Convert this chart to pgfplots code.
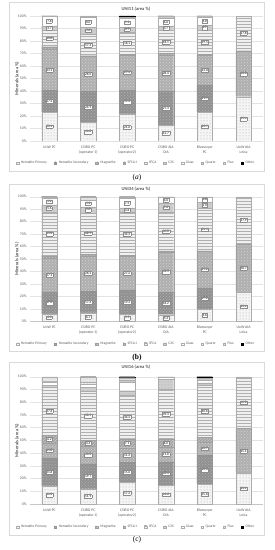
\documentclass[border=0pt]{standalone}
\usepackage{pgfplots}
\pgfplotsset{compat=1.18}
\usepackage{pgfplotstable}
\usetikzlibrary{patterns}
\usepackage{fontspec}
\setmainfont{Carlito}
\newfontfamily\serifpanel{Liberation Serif}
\definecolor{txt}{RGB}{89,89,89}

\newcommand\barlbl[1]{%
  \pgfmathfloatparsenumber{\pgfplotspointmeta}%
  \pgfmathfloattofixed{\pgfmathresult}%
  \edef\lblv{\pgfmathresult}%
  \ifdim\lblv pt<#1pt\relax\else
    {\setlength\fboxsep{0.6pt}\setlength\fboxrule{0.25pt}\fcolorbox{gray!90}{white}{\pgfmathprintnumber[fixed,fixed zerofill,precision=1]{\lblv}}}%
  \fi}

\pgfplotstableread{
x hp hs mag sfi sfca c2s gla qtz flx oth
0 23.1 17.2 33.1 2.0 13.0 3.7 7.8 0.0 0.0 0.1
1 14.8 24.9 28.0 0.5 17.3 5.6 8.0 0.4 0.5 0.0
2 21.6 19.4 27.4 0.8 18.1 3.7 7.2 0.3 0.3 1.2
3 12.7 27.3 28.4 1.8 18.1 3.7 6.6 0.6 0.5 0.3
4 22.9 21.9 23.8 0.6 19.5 3.7 6.8 0.3 0.3 0.2
5 35.4 0.0 36.8 0.0 27.8 0.0 0.0 0.0 0.0 0.0
}\dataA
\pgfplotstableread{
x hp hs mag sfi sfca c2s gla qtz flx oth
0 6.0 17.6 27.1 1.8 35.3 5.6 5.2 0.4 0.3 0.7
1 6.7 17.6 28.2 1.5 32.9 5.0 5.2 0.4 2.2 0.3
2 5.5 19.3 27.2 0.8 34.4 3.8 7.5 1.0 0.3 0.2
3 5.3 18.2 32.3 0.8 30.8 7.6 4.6 0.2 0.2 0.0
4 9.6 17.2 29.2 0.5 34.1 5.0 3.8 0.3 0.3 0.0
5 23.4 0.0 38.7 0.0 37.9 0.0 0.0 0.0 0.0 0.0
}\dataB
\pgfplotstableread{
x hp hs mag sfi sfca c2s gla qtz flx oth
0 14.3 21.8 11.8 6.2 37.6 1.3 3.0 0.5 3.5 0.0
1 11.9 19.7 14.0 4.4 38.5 3.0 3.0 1.0 4.3 0.2
2 17.2 15.6 11.4 7.1 34.2 3.5 7.0 1.0 2.2 0.8
3 14.6 18.4 11.8 6.0 39.3 8.0 1.5 0.2 0.2 0.0
4 15.6 22.6 10.7 3.7 40.6 2.0 2.3 1.0 0.0 1.5
5 24.1 0.0 35.1 0.0 40.8 0.0 0.0 0.0 0.0 0.0
}\dataC

\pgfplotsset{
  hp/.style={fill=gray!8, draw=gray!65, line width=0.3pt, postaction={pattern=dots, pattern color=gray!70}},
  hs/.style={fill=gray!86, draw=gray!85, line width=0.3pt, postaction={pattern=crosshatch dots, pattern color=gray!62}},
  mag/.style={fill=gray!63, draw=gray!75, line width=0.3pt, postaction={pattern=crosshatch dots, pattern color=gray!35}},
  sfi/.style={fill=gray!72, draw=gray!75, line width=0.3pt, postaction={pattern=north east lines, pattern color=gray!45}},
  sfca/.style={fill=gray!12, draw=gray!65, line width=0.3pt, postaction={pattern=horizontal lines, pattern color=gray!62}},
  c2s/.style={fill=gray!38, draw=gray!65, line width=0.3pt, postaction={pattern=dots, pattern color=gray!72}},
  gla/.style={fill=white, draw=gray!65, line width=0.3pt},
  qtz/.style={fill=gray!52, draw=gray!65, line width=0.3pt, postaction={pattern=crosshatch dots, pattern color=white}},
  flx/.style={fill=gray!18, draw=gray!65, line width=0.3pt, postaction={pattern=dots, pattern color=gray!55}},
  oth/.style={fill=black, draw=black, line width=0.3pt},
  lbl/.style 2 args={nodes near coords={\barlbl{#1}}, point meta=\thisrow{#2},
    every node near coord/.style={anchor=center, inner sep=0pt, font=\fontsize{3.4}{4}\selectfont, text=black}},
  panel/.style={
    ybar stacked, bar width=15.5pt, scale only axis, width=233pt,
    anchor=south west,
    xmin=-0.5, xmax=5.5, ymin=0, ymax=100,
    ytick={0,10,...,100}, xtick={0,...,5},
    xticklabels={UoW PC, {CSIRO PC\\(operator 1)}, {CSIRO PC\\(operator2)}, {CSIRO AIA\\OIA}, {Bluescope\\PC}, {UoW AIA\\Leica}},
    xticklabel style={align=center, font=\fontsize{3.8}{4.6}\selectfont, text=txt, yshift=-1.5pt},
    yticklabel={\pgfmathprintnumber{\tick}\%},
    yticklabel style={font=\fontsize{3.8}{4.4}\selectfont, text=txt},
    /pgf/number format/assume math mode=true,
    ymajorgrids, grid style={gray!22, line width=0.35pt},
    axis line style={draw=none},
    major tick length=0pt,
    legend columns=10,
    legend style={draw=none, fill=none, anchor=center, font=\fontsize{3.6}{4.2}\selectfont, text=txt,
      /tikz/every even column/.append style={column sep=5pt}, inner sep=0pt},
    legend image code/.code={\draw[##1] (0pt,-1.3pt) rectangle (2.8pt,1.3pt);},
  }
}

\newcommand\stackplots[3]{%
  \addplot[hp, lbl={#2}{hp}] table[x=x,y=hp]{#1};
  \addplot[hs, lbl={#2}{hs}] table[x=x,y=hs]{#1};
  \addplot[mag, lbl={#2}{mag}] table[x=x,y=mag]{#1};
  \addplot[sfi, lbl={#2}{sfi}] table[x=x,y=sfi]{#1};
  \addplot[sfca, lbl={#2}{sfca}] table[x=x,y=sfca]{#1};
  \addplot[c2s, lbl={#3}{c2s}] table[x=x,y=c2s]{#1};
  \addplot[gla, lbl={#3}{gla}] table[x=x,y=gla]{#1};
  \addplot[qtz] table[x=x,y=qtz]{#1};
  \addplot[flx] table[x=x,y=flx]{#1};
  \addplot[oth] table[x=x,y=oth]{#1};
  \draw[gray!45, line width=0.4pt] (axis cs:-0.5,0) -- (axis cs:5.5,0);
  \legend{Hematite Primary, Hematite Secondary, Magnetite, SFCA-I, SFCA, C2S, Glass, Quartz, Flux, Other}
}

\begin{document}
\begin{tikzpicture}[x=1pt,y=1pt]
\useasboundingbox (0,0) rectangle (274,550);
% panel boxes
\draw[gray!30, line width=0.4pt] (9,547.5) rectangle (264,379);
\draw[gray!30, line width=0.4pt] (9,366) rectangle (264,199);
\draw[gray!30, line width=0.4pt] (9,188) rectangle (264,15);

% (a)
\begin{axis}[panel, at={(30pt,409pt)}, height=125pt, legend style={at={(0.455,-0.176)}}]
\stackplots{\dataA}{3}{3}
\end{axis}
\node[font=\bfseries\fontsize{4.6}{5}\selectfont, text=txt] at (136,541) {UNI11 (area \%)};
\node[rotate=90, font=\bfseries\fontsize{4.6}{5}\selectfont, text=txt] at (17,471.5) {Minerals (area \%)};
\node[font=\serifpanel\fontsize{7.5}{8}\selectfont] at (137,372) {(\textit{a})};

% (b)
\begin{axis}[panel, at={(30pt,228.7pt)}, height=124.6pt, legend style={at={(0.455,-0.182)}}]
\stackplots{\dataB}{3}{3}
\end{axis}
\node[font=\bfseries\fontsize{4.6}{5}\selectfont, text=txt] at (136,361) {UNI34 (area \%)};
\node[rotate=90, font=\bfseries\fontsize{4.6}{5}\selectfont, text=txt] at (17,291) {Minerals (area \%)};
\node[font=\serifpanel\bfseries\fontsize{7.5}{8}\selectfont] at (137,192.3) {(b)};

% (c)
\begin{axis}[panel, at={(30pt,46pt)}, height=127.3pt, legend style={at={(0.455,-0.181)}}]
\stackplots{\dataC}{4}{100}
\end{axis}
\node[font=\bfseries\fontsize{4.6}{5}\selectfont, text=txt] at (136,182.7) {UNI16 (area \%)};
\node[rotate=90, font=\bfseries\fontsize{4.6}{5}\selectfont, text=txt] at (17,109.5) {Minerals (area \%)};
\node[font=\serifpanel\fontsize{7.5}{8}\selectfont] at (137,10.7) {(c)};
\end{tikzpicture}
\end{document}
